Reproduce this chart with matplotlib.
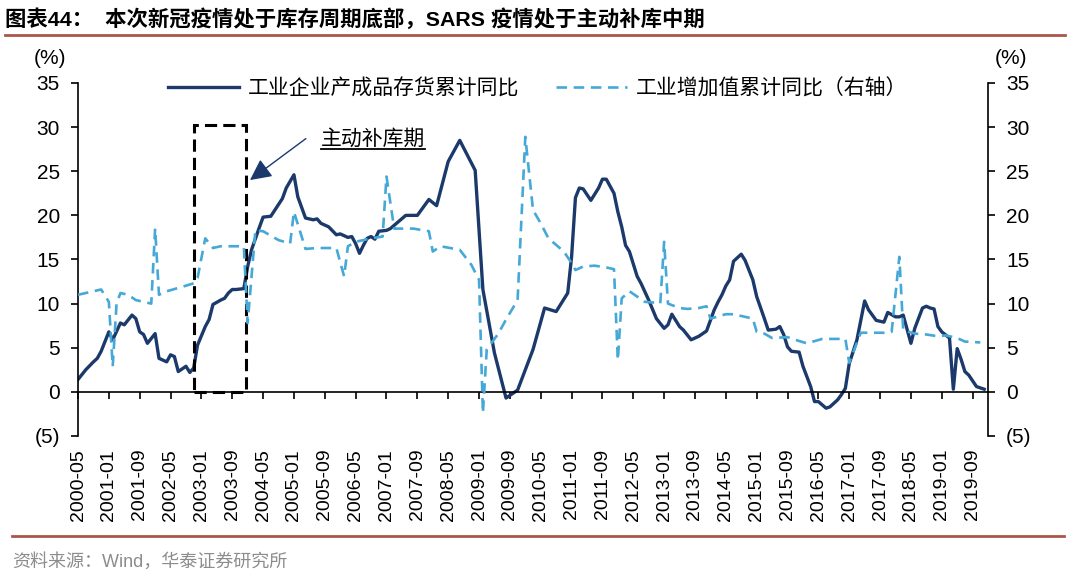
import matplotlib.pyplot as plt
import pandas as pd
from matplotlib.patches import Rectangle
from matplotlib.lines import Line2D
from matplotlib.transforms import IdentityTransform
from matplotlib.ticker import FuncFormatter

plt.rcParams['font.family'] = ['Liberation Sans', 'Noto Sans CJK SC', 'DejaVu Sans']

# months are counted from 2000-05
start = pd.Period('2000-05', 'M')

# 工业企业产成品存货累计同比 (%), left axis
inv_m = [0, 2, 4, 5, 6, 8, 9, 11, 12, 14, 15, 16, 17, 18, 20, 21, 23, 24, 25, 26,
         28, 29, 30, 31, 33, 34, 35, 37, 38, 39, 40, 41, 43, 44, 45, 47, 48, 50, 53, 54,
         56, 57, 59, 61, 62, 63, 65, 67, 68, 70, 71, 72, 73, 74, 75, 76, 77, 78, 80, 81,
         85, 88, 91, 93, 96, 99, 103, 105, 108, 111, 114, 118, 121, 124, 127, 128, 129, 130, 131, 133,
         135, 136, 137, 139, 140, 141, 142, 143, 145, 146, 148, 150, 152, 153, 154, 156, 157, 159, 161, 163,
         165, 166, 167, 168, 169, 170, 172, 173, 174, 175, 176, 178, 179, 181, 182, 183, 184, 185, 187, 188,
         190, 191, 192, 194, 195, 197, 198, 199, 200, 202, 204, 205, 207, 209, 210, 212, 213, 214, 216, 217,
         219, 220, 221, 222, 223, 224, 226, 227, 228, 229, 230, 231, 233, 235]
inv_v = [1.4, 2.5, 3.4, 3.8, 4.6, 6.8, 5.9, 7.8, 7.6, 8.7, 8.3, 6.8, 6.5, 5.5, 6.6, 3.8, 3.4, 4.2, 4.0, 2.3,
         2.9, 2.2, 2.7, 5.3, 7.4, 8.2, 9.9, 10.4, 10.6, 11.2, 11.6, 11.6, 11.7, 14.2, 16.1, 18.6, 19.8, 19.9, 21.9, 23.1,
         24.6, 22.1, 19.7, 19.5, 19.6, 19.1, 18.7, 17.8, 17.9, 17.5, 17.6, 16.8, 15.7, 16.6, 17.4, 17.6, 17.3, 18.2, 18.3, 18.5,
         20.0, 20.0, 21.8, 21.1, 26.1, 28.5, 25.1, 11.6, 4.4, -0.7, 0.2, 4.8, 9.5, 9.1, 11.2, 15.3, 22.0, 23.1, 23.0, 21.7,
         23.1, 24.1, 24.1, 22.5, 20.4, 18.7, 16.6, 15.9, 13.1, 12.3, 10.4, 8.3, 7.2, 7.6, 8.8, 7.4, 7.0, 5.9, 6.3, 6.9,
         9.3, 10.2, 11.0, 12.0, 12.7, 14.8, 15.6, 14.9, 13.8, 12.7, 10.8, 8.3, 7.0, 7.1, 7.4, 6.5, 5.1, 4.6, 4.5, 2.9,
         0.6, -1.1, -1.1, -1.85, -1.7, -0.9, -0.3, 0.4, 3.2, 5.9, 10.3, 9.3, 8.1, 7.9, 9.0, 8.5, 8.5, 8.7, 5.5, 7.2,
         9.5, 9.7, 9.5, 9.4, 7.4, 6.8, 6.1, 0.3, 4.9, 3.7, 2.3, 1.9, 0.6, 0.3]

# 工业增加值累计同比 (%), right axis
va_m = [0, 6, 8, 9, 10, 11, 13, 15, 17, 19, 20, 21, 23, 27, 30, 31, 33, 35, 37, 40,
        43, 44, 46, 48, 52, 55, 56, 59, 62, 67, 69, 70, 72, 76, 79, 80, 82, 87, 91, 92,
        94, 99, 102, 104, 105, 106, 109, 111, 114, 116, 118, 120, 122, 126, 128, 129, 131, 134, 137, 139,
        140, 141, 143, 145, 147, 150, 151, 152, 153, 156, 158, 161, 163, 164, 168, 170, 175, 176, 178, 180,
        184, 186, 189, 193, 199, 200, 203, 209, 211, 213, 214, 217, 220, 223, 225, 228, 230, 234]
va_v = [11.0, 11.6, 10.2, 2.9, 10.0, 11.2, 11.0, 10.4, 10.2, 10.0, 18.5, 11.0, 11.4, 11.9, 12.3, 12.9, 17.4, 16.3, 16.5, 16.5,
        16.5, 7.8, 18.3, 18.2, 17.2, 16.8, 20.4, 16.2, 16.3, 16.3, 13.1, 16.5, 17.0, 17.4, 17.6, 24.4, 18.5, 18.5, 18.2, 15.9,
        16.5, 16.1, 14.4, 12.7, -2.4, 4.8, 6.6, 8.2, 10.4, 28.9, 20.6, 19.1, 17.4, 15.9, 14.6, 13.8, 14.2, 14.3, 14.1, 13.9,
        3.6, 10.6, 11.4, 10.8, 10.2, 10.1, 10.0, 17.0, 10.0, 9.5, 9.4, 9.5, 9.7, 8.3, 8.8, 8.8, 8.3, 6.8, 6.6, 6.1,
        6.2, 5.9, 5.5, 6.0, 6.0, 3.3, 6.7, 6.7, 6.8, 15.3, 7.0, 6.6, 6.5, 6.3, 6.4, 6.1, 5.7, 5.6]

tick_labels = ['2000-05', '2001-01', '2001-09', '2002-05', '2003-01', '2003-09', '2004-05', '2005-01',
               '2005-09', '2006-05', '2007-01', '2007-09', '2008-05', '2009-01', '2009-09', '2010-05',
               '2011-01', '2011-09', '2012-05', '2013-01', '2013-09', '2014-05', '2015-01',
               '2015-09', '2016-05', '2017-01', '2017-09', '2018-05', '2019-01', '2019-09']
tick_pos = [(pd.Period(t, 'M') - start).n for t in tick_labels]

# 主动补库期 box (SARS period), month offsets and height
box_start, box_end, box_top = 30, 43.5, 30.2

navy = '#1B3A6B'
cyan = '#45A8D6'
brown = '#A9574A'

fig = plt.figure(figsize=(10.7, 5.8), dpi=100)
ax = fig.add_axes([0.0729, 0.2483, 0.8505, 0.6086])
ax2 = ax.twinx()

l1, = ax.plot(inv_m, inv_v, color=navy, lw=2.4, solid_joinstyle='round',
              label='工业企业产成品存货累计同比')
l2, = ax2.plot(va_m, va_v, color=cyan, lw=1.9, dashes=(4, 2.5),
               label='工业增加值累计同比（右轴）')

for a in (ax, ax2):
    a.set_ylim(-5, 35)
    a.set_yticks(range(-5, 36, 5))
    a.yaxis.set_major_formatter(FuncFormatter(lambda v, p: f'({abs(v):g})' if v < 0 else f'{v:g}'))
    a.spines['top'].set_visible(False)
ax.set_xlim(0, 236)
ax.spines['right'].set_visible(False)
ax2.spines['left'].set_visible(False)
ax2.spines['bottom'].set_visible(False)
ax.spines['bottom'].set_position(('data', 0))
for s in ('left', 'bottom'):
    ax.spines[s].set_linewidth(1.2)
ax2.spines['right'].set_linewidth(1.2)

ax.set_xticks(tick_pos)
ax.set_xticklabels(tick_labels, rotation=90)
ax.tick_params(axis='x', direction='out', length=5, width=1.2, pad=36, labelsize=14)
ax.tick_params(axis='y', direction='out', length=5, width=1.2, labelsize=15, pad=8)
ax2.tick_params(axis='y', direction='out', length=5, width=1.2, labelsize=15, pad=8)

ax.add_patch(Rectangle((box_start, 0), box_end - box_start, box_top, fill=False,
                       ec='black', lw=2.2, ls=(0, (4, 2)), clip_on=False, zorder=5))

ax.annotate('', xy=(box_end + 1.1, 24.0), xytext=(59.1, 28.7),
            arrowprops=dict(arrowstyle='-|>,head_length=0.5,head_width=0.25', color=navy,
                            lw=1.0, mutation_scale=26, shrinkA=0, shrinkB=0))
note = ax.text(63.0, 28.7, '主动补库期', fontsize=15, va='center', ha='left')

ax2.legend(handles=[l1, l2], loc='center', bbox_to_anchor=(0.505, 0.985), ncol=2,
           frameon=False, fontsize=15, handlelength=3.4, handletextpad=0.4, columnspacing=1.8)

fig.text(0.047, 0.9, '(%)', fontsize=15, ha='center', va='center')
fig.text(0.945, 0.9, '(%)', fontsize=15, ha='center', va='center')

fig.text(0.005, 0.967, '图表44：  本次新冠疫情处于库存周期底部，SARS 疫情处于主动补库中期',
         fontsize=15.4, fontweight='bold', ha='left', va='center')
fig.add_artist(Line2D([0.005, 0.995], [0.94, 0.94], color=brown, lw=2))
fig.add_artist(Line2D([0.011, 0.994], [0.076, 0.076], color=brown, lw=2))
fig.text(0.011, 0.031, '资料来源：Wind，华泰证券研究所', fontsize=13, color='#8C8C8C',
         ha='left', va='center')

# underline the note
fig.canvas.draw()
bb = note.get_window_extent(fig.canvas.get_renderer())
fig.add_artist(Line2D([bb.x0, bb.x1], [bb.y0 - 1, bb.y0 - 1], color='black', lw=1.3,
                      transform=IdentityTransform()))

fig.savefig('out.png', dpi=100)
